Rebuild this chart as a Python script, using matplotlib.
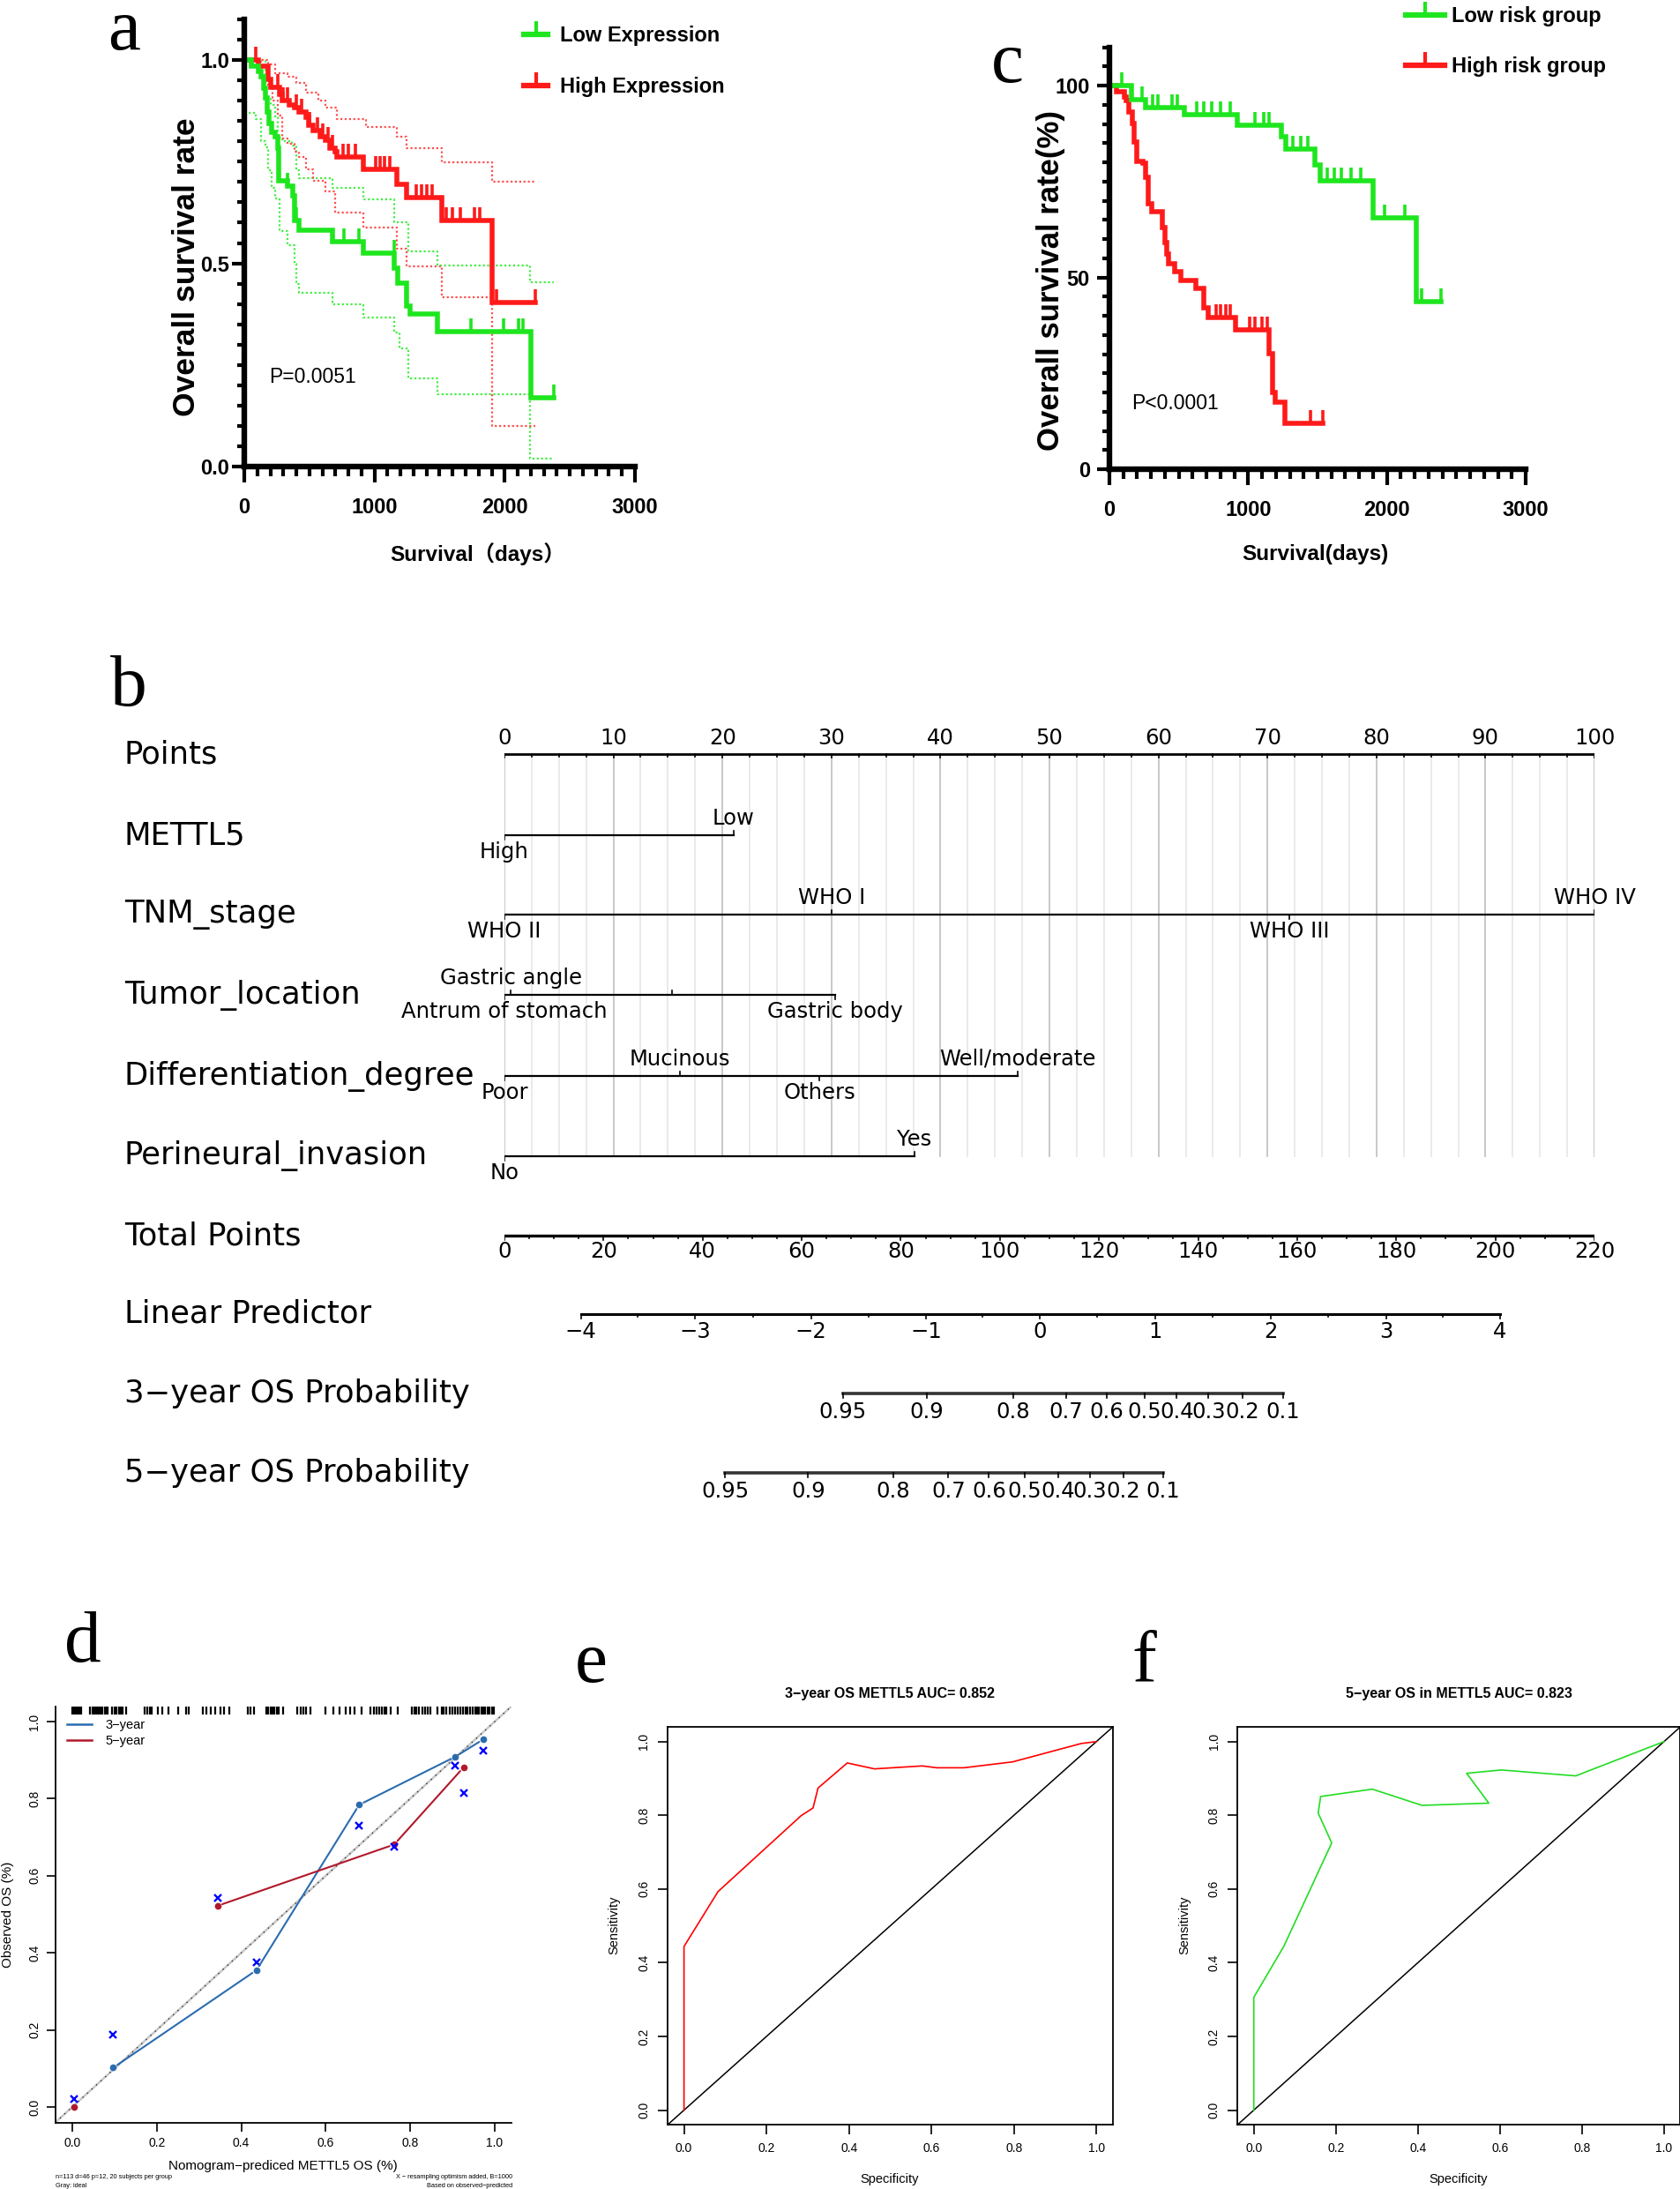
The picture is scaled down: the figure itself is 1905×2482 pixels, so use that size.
import numpy as np
import matplotlib
matplotlib.use("Agg")
import matplotlib.pyplot as plt
from matplotlib.lines import Line2D

W, H = 1906, 2482

# ---- a: KM curves by METTL5 expression (days / survival) ----
low_t = [0, 55, 110, 128, 146, 165, 176, 190, 212, 238, 256, 267, 329, 373, 384, 421, 677, 915, 1153, 1178, 1244, 1270, 1482, 2203, 2378]
low_s = [1.0, 0.986, 0.972, 0.958, 0.93, 0.906, 0.873, 0.845, 0.822, 0.812, 0.784, 0.704, 0.69, 0.667, 0.606, 0.582, 0.554, 0.524, 0.488, 0.451, 0.394, 0.376, 0.333, 0.169, 0.169]
low_cens = [329, 400, 677, 768, 878, 1150, 1738, 1994, 2104, 2141, 2378]
low_up_t = [0, 165, 201, 238, 256, 293, 366, 402, 421, 677, 915, 1153, 1262, 1482, 2195, 2378]
low_up_s = [1.0, 0.91, 0.89, 0.86, 0.81, 0.80, 0.79, 0.73, 0.71, 0.685, 0.657, 0.60, 0.53, 0.495, 0.453, 0.453]
low_lo_t = [37, 91, 128, 165, 183, 212, 238, 274, 329, 384, 402, 421, 677, 915, 1153, 1189, 1262, 1482, 2195, 2378]
low_lo_s = [0.87, 0.855, 0.80, 0.785, 0.73, 0.685, 0.66, 0.58, 0.545, 0.50, 0.45, 0.427, 0.40, 0.366, 0.329, 0.29, 0.216, 0.178, 0.019, 0.019]

high_t = [0, 110, 183, 201, 274, 293, 348, 384, 421, 476, 494, 531, 585, 622, 659, 695, 713, 915, 1171, 1244, 1518, 1903, 2232]
high_s = [1.0, 0.986, 0.953, 0.934, 0.915, 0.90, 0.89, 0.883, 0.873, 0.859, 0.84, 0.826, 0.812, 0.803, 0.784, 0.775, 0.761, 0.732, 0.695, 0.662, 0.606, 0.404, 0.404]
high_cens = [91, 256, 300, 330, 400, 440, 500, 560, 600, 640, 680, 760, 800, 850, 1006, 1040, 1080, 1120, 1320, 1360, 1400, 1440, 1550, 1600, 1660, 1770, 1810, 1940, 2232]
high_up_t = [0, 183, 238, 329, 402, 476, 567, 622, 713, 933, 1171, 1244, 1518, 1903, 2232]
high_up_s = [1.0, 0.99, 0.967, 0.958, 0.944, 0.92, 0.90, 0.883, 0.854, 0.836, 0.812, 0.784, 0.749, 0.70, 0.70]
high_lo_t = [0, 73, 128, 183, 220, 256, 293, 329, 384, 421, 476, 531, 622, 695, 915, 1171, 1244, 1518, 1903, 2232]
high_lo_s = [1.0, 0.995, 0.958, 0.934, 0.90, 0.864, 0.808, 0.793, 0.775, 0.761, 0.732, 0.704, 0.676, 0.624, 0.589, 0.535, 0.493, 0.416, 0.099, 0.099]

# ---- c: KM curves by risk group (percent) ----
lowrisk_t = [0, 157, 262, 541, 924, 1238, 1273, 1482, 1517, 1901, 2215, 2389]
lowrisk_s = [100, 96.3, 94.2, 92.5, 89.7, 86.7, 83.4, 79.2, 75.2, 65.6, 43.6, 43.6]
lowrisk_cens = [87, 233, 313, 350, 450, 488, 628, 680, 740, 800, 872, 1046, 1110, 1151, 1325, 1380, 1430,
                1570, 1620, 1670, 1740, 1814, 1981, 2128, 2250, 2389]
highrisk_t = [0, 52, 105, 122, 140, 167, 181, 199, 244, 262, 279, 307, 384, 401, 412, 429, 471, 516, 621, 680,
              715, 907, 1151, 1179, 1193, 1263, 1535]
highrisk_s = [100, 98.5, 97.0, 96.2, 93.2, 90.2, 85.2, 80.2, 79.7, 76.2, 69.1, 67.1, 63.1, 59.1, 56.1, 53.6,
              51.6, 49.3, 47.1, 42.1, 39.6, 36.3, 30.1, 20.0, 17.5, 12.0, 12.0]
highrisk_cens = [767, 800, 840, 872, 1011, 1050, 1100, 1140, 1447, 1535]

# ---- b: nomogram ----
mettl5_lv = ["High", "Low"]
mettl5_pt = [0, 21]
tnm_lv = ["WHO II", "WHO I", "WHO III", "WHO IV"]
tnm_pt = [0, 30, 72, 100]
loc_lv = ["Antrum of stomach", "Gastric angle", "", "Gastric body"]
loc_pt = [0, 0.6, 15.4, 30.3]
diff_lv = ["Poor", "Mucinous", "Others", "Well/moderate"]
diff_pt = [0, 16.1, 28.9, 47.1]
pni_lv = ["No", "Yes"]
pni_pt = [0, 37.6]
lp_vals = [-4, -3, -2, -1, 0, 1, 2, 3, 4]
lp_tp = [15.4, 38.5, 61.9, 85.1, 108.0, 131.4, 154.6, 178.0, 200.9]   # on total-points scale
prob_vals = [0.95, 0.9, 0.8, 0.7, 0.6, 0.5, 0.4, 0.3, 0.2, 0.1]
prob3_tp = [68.3, 85.3, 102.7, 113.4, 121.6, 129.2, 135.7, 142.1, 148.9, 157.1]
prob5_tp = [44.5, 61.3, 78.5, 89.6, 97.8, 105.0, 111.7, 118.1, 124.9, 132.9]

# ---- d: calibration ----
cal3_pred = [0.097, 0.436, 0.679, 0.907, 0.973]
cal3_obs = [0.102, 0.355, 0.784, 0.909, 0.954]
cal3_corr = [0.187, 0.376, 0.729, 0.886, 0.925]
cal5_pred = [0.004, 0.344, 0.762, 0.926]
cal5_obs = [0.0, 0.522, 0.681, 0.881]
cal5_corr = [0.020, 0.542, 0.676, 0.815]
rug = [0.0, 0.004, 0.008, 0.012, 0.016, 0.02, 0.042, 0.048, 0.052, 0.056, 0.06, 0.064, 0.068, 0.072, 0.077,
       0.081, 0.084, 0.095, 0.1, 0.105, 0.11, 0.115, 0.12, 0.127, 0.171, 0.178, 0.183, 0.188, 0.203, 0.214,
       0.227, 0.25, 0.27, 0.275, 0.308, 0.317, 0.328, 0.338, 0.35, 0.36, 0.372, 0.416, 0.422, 0.43, 0.459,
       0.464, 0.469, 0.474, 0.479, 0.484, 0.489, 0.499, 0.532, 0.54, 0.547, 0.553, 0.564, 0.6, 0.618, 0.633,
       0.647, 0.658, 0.669, 0.684, 0.705, 0.713, 0.72, 0.726, 0.732, 0.738, 0.744, 0.753, 0.771, 0.803,
       0.809, 0.814, 0.821, 0.828, 0.834, 0.841, 0.847, 0.864, 0.875, 0.879, 0.886, 0.893, 0.9, 0.905,
       0.912, 0.918, 0.924, 0.93, 0.936, 0.942, 0.948, 0.953, 0.958, 0.963, 0.968, 0.973, 0.978, 0.983,
       0.988, 0.993, 0.998]

# ---- e / f: ROC ----
roc3_spec = [0, 0, 0.0825, 0.284, 0.313, 0.325, 0.396, 0.462, 0.578, 0.613, 0.679, 0.797, 0.964, 1.0]
roc3_sens = [0, 0.444, 0.593, 0.799, 0.820, 0.874, 0.942, 0.926, 0.934, 0.929, 0.929, 0.945, 0.995, 1.0]
roc5_spec = [0, 0, 0.073, 0.190, 0.157, 0.163, 0.289, 0.410, 0.573, 0.519, 0.603, 0.785, 1.0]
roc5_sens = [0, 0.306, 0.444, 0.725, 0.806, 0.851, 0.871, 0.827, 0.833, 0.914, 0.923, 0.907, 1.0]

GREEN = "#1ee61e"
RED = "#ff1a1a"
NARROW = ["Liberation Sans", "Noto Sans CJK SC"]
ARIAL = ["Liberation Sans", "DejaVu Sans"]
SERIF = ["Liberation Serif", "DejaVu Serif"]
NOMO = ["DejaVu Sans"]
KMFS = 17

fig = plt.figure(figsize=(W / 100, H / 100), dpi=100)


def px_axes(l, t, r, b):
    return fig.add_axes([l / W, 1 - b / H, (r - l) / W, (b - t) / H])


def ftext(x, y, s, **kw):
    return fig.text(x / W, 1 - y / H, s, **kw)


def surv_at(t, s, when):
    idx = np.searchsorted(t, when, side="right") - 1
    return np.asarray(s)[idx]


def km_axes(ax, ymax, ymajor, yminor, ylabels, ypad):
    ax.set_xlim(0, 3000)
    ax.set_ylim(0, ymax)
    for sp in ["top", "right"]:
        ax.spines[sp].set_visible(False)
    for sp in ["left", "bottom"]:
        ax.spines[sp].set_linewidth(4.6)
    ax.set_xticks([0, 1000, 2000, 3000])
    ax.set_xticks(np.arange(0, 3001, 100), minor=True)
    ax.set_yticks(ymajor)
    ax.set_yticks(yminor, minor=True)
    ax.set_yticklabels(ylabels)
    ax.tick_params(axis="x", which="major", length=13, width=3, pad=12)
    ax.tick_params(axis="x", which="minor", length=8, width=3)
    ax.tick_params(axis="y", which="major", length=10, width=3, pad=ypad)
    ax.tick_params(axis="y", which="minor", length=6, width=3)
    for lab in ax.get_xticklabels() + ax.get_yticklabels():
        lab.set_fontfamily(NARROW)
        lab.set_fontweight("bold")
        lab.set_fontsize(KMFS)


def km_curve(ax, t, s, cens, color):
    ax.step(t, s, where="post", color=color, lw=4.0, solid_joinstyle="miter")
    ax.plot(cens, surv_at(t, s, cens), ls="none", marker=2, ms=11, mew=2.6, color=color)


def km_ci(ax, t, s, color):
    ax.step(t, s, where="post", color=color, lw=1.6, ls=(0, (1, 1.2)))


# ================= panel a =================
ax_a = px_axes(277, 22, 720, 529)
km_ci(ax_a, low_up_t, low_up_s, "#44ee44")
km_ci(ax_a, low_lo_t, low_lo_s, "#44ee44")
km_ci(ax_a, high_up_t, high_up_s, "#ff5050")
km_ci(ax_a, high_lo_t, high_lo_s, "#ff5050")
km_curve(ax_a, high_t, high_s, high_cens, RED)
km_curve(ax_a, low_t, low_s, low_cens, GREEN)
km_axes(ax_a, 1.1, [0, 0.5, 1.0], np.arange(0, 1.101, 0.05), ["0.0", "0.5", "1.0"], 2)
handles = [Line2D([], [], color=GREEN, lw=4.5, marker=2, ms=11, mew=3),
           Line2D([], [], color=RED, lw=4.5, marker=2, ms=11, mew=3)]
ax_a.legend(handles, ["Low Expression", "High Expression"], loc="upper left",
            bbox_to_anchor=(594 / W, 1 - 29 / H), bbox_transform=fig.transFigure, frameon=False,
            prop={"family": NARROW, "weight": "bold", "size": KMFS}, handlelength=1.15,
            handletextpad=0.6, labelspacing=1.5, borderpad=0, borderaxespad=0)
ftext(305, 427, "P=0.0051", family=NARROW, fontsize=16.5, va="center")
ftext(212, 303, "Overall survival rate", family=ARIAL, weight="bold", fontsize=25.5,
      rotation=90, ha="center", va="center")
ftext(542, 628, "Survival\uff08days\uff09", family=NARROW, weight="bold", fontsize=17.5,
      ha="center", va="center")
ftext(122, 56, "a", family=SERIF, fontsize=60, va="baseline")

# ================= panel c =================
ax_c = px_axes(1258, 53.5, 1730, 532)
km_curve(ax_c, highrisk_t, highrisk_s, highrisk_cens, RED)
km_curve(ax_c, lowrisk_t, lowrisk_s, lowrisk_cens, GREEN)
km_axes(ax_c, 110, [0, 50, 100], np.arange(0, 110.1, 5), ["0", "50", "100"], 6)
ax_c.legend(handles, ["Low risk group", "High risk group"], loc="upper left",
            bbox_to_anchor=(1594 / W, 1 - 7 / H), bbox_transform=fig.transFigure, frameon=False,
            prop={"family": NARROW, "weight": "bold", "size": KMFS}, handlelength=1.85,
            handletextpad=0.35, labelspacing=1.45, borderpad=0, borderaxespad=0)
ftext(1283, 458, "P<0.0001", family=NARROW, fontsize=16.5, va="center")
ftext(1191, 318, "Overall survival rate(%)", family=ARIAL, weight="bold", fontsize=25,
      rotation=90, ha="center", va="center")
ftext(1491, 629, "Survival(days)", family=NARROW, weight="bold", fontsize=17.5,
      ha="center", va="center")
ftext(1124, 93, "c", family=SERIF, fontsize=60, va="baseline")

# ================= panel b: nomogram =================
ax_b = px_axes(572, 800, 1808, 1720)
ax_b.set_xlim(0, 100)
ax_b.set_ylim(1720, 800)
ax_b.axis("off")
row_y = [855, 947, 1037, 1128, 1220, 1311, 1401, 1490, 1580, 1670]
row_names = ["Points", "METTL5", "TNM_stage", "Tumor_location", "Differentiation_degree",
             "Perineural_invasion", "Total Points", "Linear Predictor",
             "3\u2212year OS Probability", "5\u2212year OS Probability"]
NFS = 17.5

for v in np.arange(0, 100.01, 2.5):
    col = "#c4c4c4" if v % 10 == 0 else "#e8e8e8"
    ax_b.plot([v, v], [row_y[0], row_y[5]], color=col, lw=1.3, zorder=0)

for y, name in zip(row_y, row_names):
    ftext(141, y, name, family=NOMO, fontsize=25.5, va="center")

# points scale
y0 = row_y[0]
ax_b.plot([0, 100], [y0, y0], color="k", lw=2.0)
for v in np.arange(0, 100.01, 2.5):
    ax_b.plot([v, v], [y0, y0 + (4 if v % 10 == 0 else 3)], color="k", lw=1.2)
for v in range(0, 101, 10):
    ax_b.text(v, y0 - 18, str(v), ha="center", va="center", family=NOMO, fontsize=NFS)


def cat_row(y, pts, labels, sides):
    ax_b.plot([min(pts), max(pts)], [y, y], color="k", lw=1.6)
    for p, lab, sd in zip(pts, labels, sides):
        d = -1 if sd == "up" else 1
        ax_b.plot([p, p], [y, y + d * 5], color="k", lw=1.2)
        if lab:
            ax_b.text(p, y + d * 19, lab, ha="center", va="center", family=NOMO, fontsize=NFS)


cat_row(row_y[1], mettl5_pt, mettl5_lv, ["dn", "up"])
cat_row(row_y[2], tnm_pt, tnm_lv, ["dn", "up", "dn", "up"])
cat_row(row_y[3], loc_pt, loc_lv, ["dn", "up", "up", "dn"])
cat_row(row_y[4], diff_pt, diff_lv, ["dn", "up", "dn", "up"])
cat_row(row_y[5], pni_pt, pni_lv, ["dn", "up"])

# total points scale (0-220 over the same width)
tp_scale = 100 / 220
yt = row_y[6]
ax_b.plot([0, 100], [yt, yt], color="k", lw=2.4)
for v in range(0, 221, 5):
    ax_b.plot([v * tp_scale] * 2, [yt, yt + (5 if v % 20 == 0 else 3)], color="k", lw=1.2)
for v in range(0, 221, 20):
    ax_b.text(v * tp_scale, yt + 18, str(v), ha="center", va="center", family=NOMO, fontsize=NFS)

# linear predictor
yl = row_y[7]
lpx = np.array(lp_tp) * tp_scale
ax_b.plot([lpx[0], lpx[-1]], [yl, yl], color="k", lw=2.2)
for x, v in zip(lpx, lp_vals):
    ax_b.plot([x, x], [yl, yl + 5], color="k", lw=1.2)
    ax_b.text(x, yl + 20, str(v).replace("-", "\u2212"), ha="center", va="center", family=NOMO, fontsize=NFS)
for x in (lpx[:-1] + lpx[1:]) / 2:
    ax_b.plot([x, x], [yl, yl + 3], color="k", lw=1.2)

# survival probability scales
for y, tps in [(row_y[8], prob3_tp), (row_y[9], prob5_tp)]:
    px = np.array(tps) * tp_scale
    ax_b.plot([px[0], px[-1]], [y, y], color="#333333", lw=2.6)
    for x, v in zip(px, prob_vals):
        ax_b.plot([x, x], [y, y + 5], color="k", lw=1.2)
        ax_b.text(x, y + 21, "%g" % v, ha="center", va="center", family=NOMO, fontsize=NFS)

ftext(125, 800, "b", family=SERIF, fontsize=60, va="baseline")

# ================= panel d: calibration =================
ax_d = px_axes(62.8, 1934.5, 580.2, 2406.5)
ax_d.set_xlim(-0.04, 1.04)
ax_d.set_ylim(-0.04, 1.04)
for sp in ["top", "right"]:
    ax_d.spines[sp].set_visible(False)
for sp in ["left", "bottom"]:
    ax_d.spines[sp].set_linewidth(1.3)
ax_d.plot([-0.04, 1.04], [-0.04, 1.04], color="#c8c8c8", lw=1.8)
ax_d.plot([-0.04, 1.04], [-0.04, 1.04], color="#333333", lw=1.0, ls=(0, (1, 4)))
ax_d.vlines(rug, 1.018, 1.040, color="k", lw=1.6, clip_on=False)

BLUE = "#2b6cb0"
DRED = "#b2182b"
for i in range(len(cal3_pred) - 1):
    ax_d.annotate("", xy=(cal3_pred[i + 1], cal3_obs[i + 1]), xytext=(cal3_pred[i], cal3_obs[i]),
                  arrowprops=dict(arrowstyle="-", color=BLUE, lw=1.5, shrinkA=4, shrinkB=4))
for i in range(1, len(cal5_pred) - 1):
    ax_d.annotate("", xy=(cal5_pred[i + 1], cal5_obs[i + 1]), xytext=(cal5_pred[i], cal5_obs[i]),
                  arrowprops=dict(arrowstyle="-", color=DRED, lw=1.5, shrinkA=4, shrinkB=4))
ax_d.plot(cal3_pred, cal3_obs, "o", color=BLUE, ms=4.5)
ax_d.plot(cal5_pred, cal5_obs, "o", color=DRED, ms=4.5)
ax_d.plot(cal3_pred + cal5_pred, cal3_corr + cal5_corr, "x", color="#0000ff", ms=5.5, mew=1.7)

ax_d.set_xticks(np.arange(0, 1.01, 0.2))
ax_d.set_yticks(np.arange(0, 1.01, 0.2))
ax_d.set_xticklabels(["%.1f" % v for v in np.arange(0, 1.01, 0.2)])
ax_d.set_yticklabels(["%.1f" % v for v in np.arange(0, 1.01, 0.2)], rotation=90, va="center")
ax_d.tick_params(length=7, width=1.2, pad=5, labelsize=10)
for lab in ax_d.get_xticklabels() + ax_d.get_yticklabels():
    lab.set_fontfamily(ARIAL)
ax_d.legend([Line2D([], [], color=BLUE, lw=1.8), Line2D([], [], color=DRED, lw=1.8)],
            ["3\u2212year", "5\u2212year"], loc="upper left", bbox_to_anchor=(76 / W, 1 - 1949 / H),
            bbox_transform=fig.transFigure, frameon=False, prop={"family": ARIAL, "size": 10.5},
            handlelength=1.95, handletextpad=1.0, labelspacing=0.25, borderpad=0, borderaxespad=0)
ftext(321, 2456, "Nomogram\u2212prediced METTL5 OS (%)", family=ARIAL, fontsize=11, ha="center", va="center")
ftext(9, 2171, "Observed OS (%)", family=ARIAL, fontsize=11, rotation=90, ha="center", va="center")
ftext(63, 2469, "n=113 d=46 p=12, 20 subjects per group", family=ARIAL, fontsize=5.3, va="center")
ftext(63, 2479, "Gray: ideal", family=ARIAL, fontsize=5.3, va="center")
ftext(581, 2469, "X \u2212 resampling optimism added, B=1000", family=ARIAL, fontsize=5.3, va="center", ha="right")
ftext(581, 2479, "Based on observed\u2212predicted", family=ARIAL, fontsize=5.3, va="center", ha="right")
ftext(73, 1884, "d", family=SERIF, fontsize=60, va="baseline")


# ================= panels e, f: ROC =================
def roc_panel(box, spec, sens, color, title, cx, sens_x):
    ax = px_axes(*box)
    ax.set_xlim(-0.04, 1.04)
    ax.set_ylim(-0.04, 1.04)
    for sp in ax.spines.values():
        sp.set_linewidth(1.3)
    ax.plot([-0.04, 1.04], [-0.04, 1.04], color="k", lw=1.1)
    ax.plot(spec, sens, color=color, lw=1.2)
    ticks = np.arange(0, 1.01, 0.2)
    ax.set_xticks(ticks)
    ax.set_yticks(ticks)
    ax.set_xticklabels(["%.1f" % v for v in ticks])
    ax.set_yticklabels(["%.1f" % v for v in ticks], rotation=90, va="center")
    ax.tick_params(length=8, width=1.2, pad=6, labelsize=10)
    for lab in ax.get_xticklabels() + ax.get_yticklabels():
        lab.set_fontfamily(ARIAL)
    ftext(cx, 1920, title, family=ARIAL, weight="bold", fontsize=11.5, ha="center", va="center")
    ftext(cx, 2471, "Specificity", family=ARIAL, fontsize=10.5, ha="center", va="center")
    ftext(sens_x, 2183, "Sensitivity", family=ARIAL, fontsize=10.5, rotation=90, ha="center", va="center")
    return ax


roc_panel((756.9, 1958, 1261.9, 2409.3), roc3_spec, roc3_sens, "#ff0000",
          "3\u2212year OS METTL5 AUC= 0.852", 1009, 696)
roc_panel((1403.1, 1958, 1905.4, 2409.3), roc5_spec, roc5_sens, "#22dd22",
          "5\u2212year OS in METTL5 AUC= 0.823", 1654, 1343)
ftext(652, 1907, "e", family=SERIF, fontsize=60, va="baseline")
ftext(1283, 1906, "f", family=SERIF, fontsize=60, va="baseline")

fig.savefig("out.png", dpi=100, facecolor="white")
